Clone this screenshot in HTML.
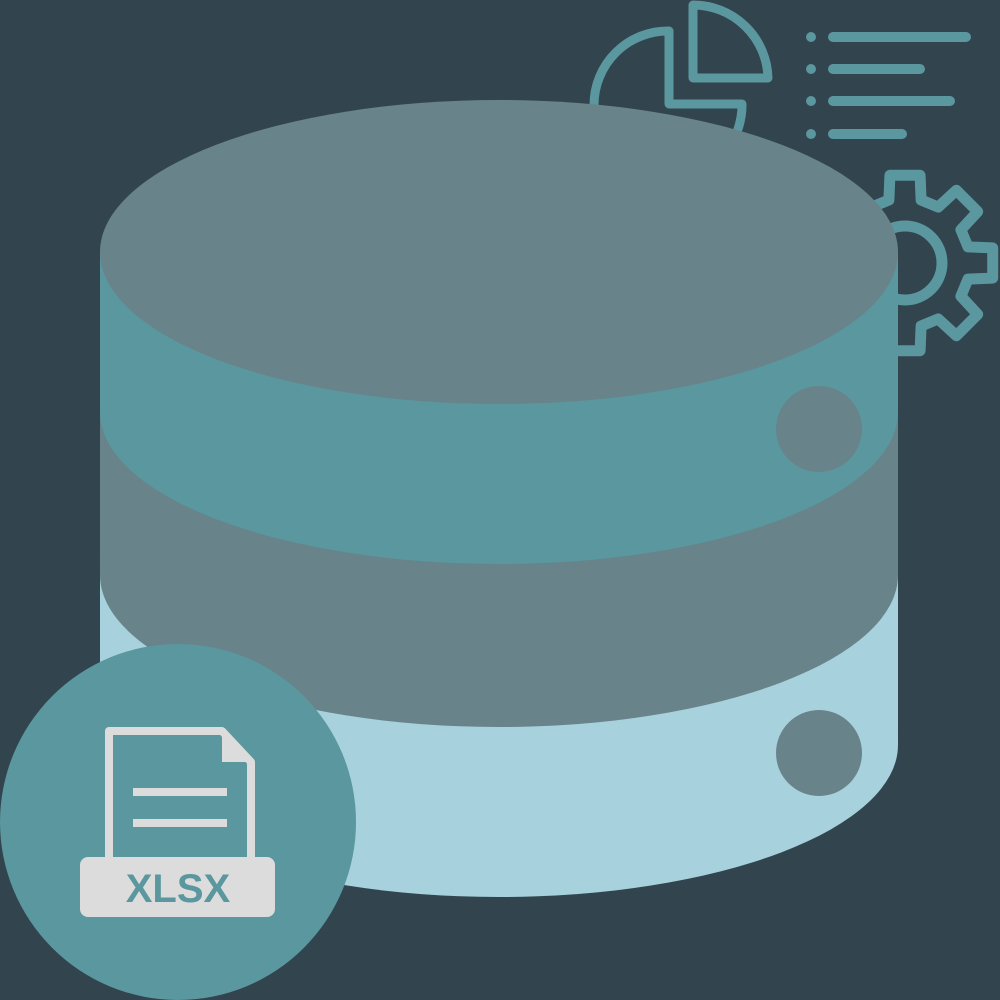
<!DOCTYPE html>
<html><head><meta charset="utf-8"><style>
html,body{margin:0;padding:0;background:#32444d;}
svg{display:block}
</style></head><body>
<svg width="1000" height="1000" viewBox="0 0 1000 1000" xmlns="http://www.w3.org/2000/svg">
<rect width="1000" height="1000" fill="#32444d"/>
<g fill="none" stroke="#5a979f" stroke-width="9" stroke-linejoin="round" stroke-linecap="round">
<path d="M693 5 L693 78 L768 78 A75 75 0 0 0 693 5 Z"/>
<path d="M669 31 L669 104 L742 104 A74 74 0 1 1 669 31 Z"/>
<g stroke-width="10">
<line x1="833" y1="37" x2="966" y2="37"/>
<line x1="833" y1="69" x2="920" y2="69"/>
<line x1="833" y1="101" x2="950" y2="101"/>
<line x1="833" y1="134" x2="902" y2="134"/>
</g>
<circle cx="905" cy="263" r="37" stroke-width="11"/>
<path id="gear" stroke-width="11"/>
</g>
<g fill="#5a979f">
<circle cx="811" cy="37" r="5"/><circle cx="811" cy="69" r="5"/><circle cx="811" cy="101" r="5"/><circle cx="811" cy="134" r="5"/>
</g>
<rect x="100" y="252" width="798" height="493" fill="#a7d1dc"/>
<ellipse cx="499" cy="745" rx="399" ry="152" fill="#a7d1dc"/>
<rect x="100" y="252" width="798" height="323" fill="#68838a"/>
<ellipse cx="499" cy="575" rx="399" ry="152" fill="#68838a"/>
<rect x="100" y="252" width="798" height="160" fill="#5a979f"/>
<ellipse cx="499" cy="412" rx="399" ry="152" fill="#5a979f"/>
<ellipse cx="499" cy="252" rx="399" ry="152" fill="#68838a"/>
<circle cx="819" cy="429" r="43" fill="#68838a"/>
<circle cx="819" cy="753" r="43" fill="#68838a"/>
<circle cx="178" cy="822" r="178" fill="#5a979f"/>
<path d="M109 860 L109 731 L222 731 L251 762 L251 860" fill="none" stroke="#dcdcdc" stroke-width="8" stroke-linejoin="round"/>
<path d="M222 731 L222 762 L251 762 Z" fill="#dcdcdc"/>
<rect x="133" y="788" width="94" height="8" fill="#dcdcdc"/>
<rect x="133" y="819" width="94" height="8" fill="#dcdcdc"/>
<rect x="80" y="857" width="195" height="60" rx="8" fill="#dcdcdc"/>
<text x="178" y="902" text-anchor="middle" font-family="Liberation Sans, sans-serif" font-weight="bold" font-size="40" fill="#5a979f">XLSX</text>
</svg>
<script>
(function(){
var cx=905,cy=263,ro=89,ri=65,n=8,d="";
var tw=0.17, bw=0.25;
for(var i=0;i<n;i++){
 var a=-Math.PI/2+i*2*Math.PI/n;
 var pts=[[ri,a-bw],[ro,a-tw],[ro,a+tw],[ri,a+bw]];
 pts.forEach(function(p,j){
  var x=cx+p[0]*Math.cos(p[1]),y=cy+p[0]*Math.sin(p[1]);
  d+=(i==0&&j==0?"M":"L")+x.toFixed(1)+" "+y.toFixed(1)+" ";
 });
}
d+="Z";
document.getElementById("gear").setAttribute("d",d);
})();
</script>
</body></html>
